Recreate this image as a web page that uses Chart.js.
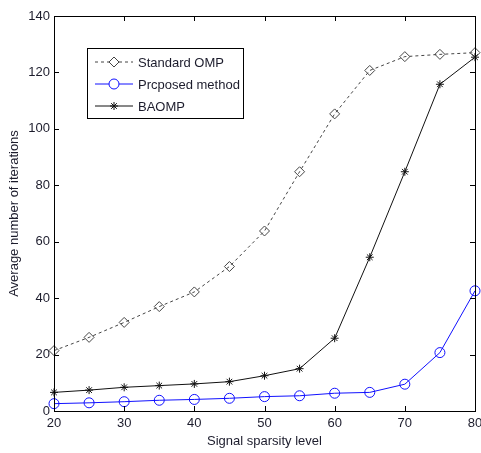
<!DOCTYPE html>
<html lang="en">
<head>
    <meta charset="UTF-8">
    <title>Average number of iterations</title>
    <script src="https://cdn.jsdelivr.net/npm/chart.js"></script>
    <style>
        html, body { margin: 0; padding: 0; background: #fff; }
        #wrap { width: 481px; height: 453px; }
    </style>
</head>
<body>
    <div id="wrap"><canvas id="myChart" width="481" height="453"></canvas></div>
    <script>
        // values
        const sparsity = [20, 25, 30, 35, 40, 45, 50, 55, 60, 65, 70, 75, 80];
        const standardOMP = [21.4, 26.1, 31.4, 37, 42.2, 51.2, 63.8, 84.8, 105.3, 120.7, 125.6, 126.4, 127];
        const proposed = [2.6, 2.9, 3.3, 3.8, 4.1, 4.5, 5.1, 5.4, 6.3, 6.6, 9.5, 20.7, 42.6];
        const baomp = [6.6, 7.4, 8.4, 9, 9.6, 10.4, 12.5, 15, 25.8, 54.5, 84.8, 115.8, 125.4];
        const xTicks = [20, 30, 40, 50, 60, 70, 80];
        const yTicks = [0, 20, 40, 60, 80, 100, 120, 140];

        const font = "'Liberation Sans', Arial, sans-serif";
        const textColor = '#1c1c2c';

        function toPoints(ys) {
            return sparsity.map((x, i) => ({ x: x, y: ys[i] }));
        }

        const series = [
            { label: 'Standard OMP', data: standardOMP, color: '#444', style: 'rectRot', radius: 5, dash: [3, 3], width: 1 },
            { label: 'Prcposed method', data: proposed, color: '#1010ff', style: 'circle', radius: 5, dash: [], width: 1 },
            { label: 'BAOMP', data: baomp, color: '#111', style: 'star', radius: 4, dash: [], width: 1 }
        ];

        // matlab style box with inward ticks, plus the legend inside the axes
        const boxPlugin = {
            id: 'box',
            afterDraw(chart) {
                const ctx = chart.ctx;
                const a = chart.chartArea;
                const xs = chart.scales.x, ys = chart.scales.y;
                ctx.save();
                ctx.strokeStyle = '#000';
                ctx.lineWidth = 1;
                ctx.strokeRect(Math.round(a.left) + 0.5, Math.round(a.top) + 0.5,
                    Math.round(a.right - a.left), Math.round(a.bottom - a.top));
                ctx.beginPath();
                xTicks.forEach(v => {
                    const px = Math.round(xs.getPixelForValue(v)) + 0.5;
                    ctx.moveTo(px, a.bottom); ctx.lineTo(px, a.bottom - 5);
                    ctx.moveTo(px, a.top); ctx.lineTo(px, a.top + 5);
                });
                yTicks.forEach(v => {
                    const py = Math.round(ys.getPixelForValue(v)) + 0.5;
                    ctx.moveTo(a.left, py); ctx.lineTo(a.left + 5, py);
                    ctx.moveTo(a.right, py); ctx.lineTo(a.right - 5, py);
                });
                ctx.stroke();

                // legend box
                const lx = Math.round(a.left) + 33, ly = Math.round(a.top) + 32, lw = 156, lh = 70;
                ctx.fillStyle = '#fff';
                ctx.fillRect(lx, ly, lw, lh);
                ctx.strokeRect(lx + 0.5, ly + 0.5, lw, lh);
                series.forEach((s, i) => {
                    const y = ly + 14 + i * 22;
                    ctx.beginPath();
                    ctx.setLineDash(s.dash);
                    ctx.strokeStyle = s.color;
                    ctx.moveTo(lx + 8, y); ctx.lineTo(lx + 46, y);
                    ctx.stroke();
                    ctx.setLineDash([]);
                    Chart.helpers.drawPoint(ctx, {
                        pointStyle: s.style, radius: s.radius, borderWidth: 1, rotation: 0
                    }, lx + 27, y);
                    ctx.fillStyle = textColor;
                    ctx.font = '13px ' + font;
                    ctx.textBaseline = 'middle';
                    ctx.textAlign = 'left';
                    ctx.fillText(s.label, lx + 51, y + 1);
                    ctx.fillStyle = '#fff';
                });
                ctx.restore();
            }
        };

        const ctx = document.getElementById('myChart').getContext('2d');
        const myChart = new Chart(ctx, {
            type: 'line',
            data: {
                datasets: series.map(s => ({
                    label: s.label,
                    data: toPoints(s.data),
                    borderColor: s.color,
                    backgroundColor: '#fff',
                    borderWidth: s.width,
                    borderDash: s.dash,
                    pointStyle: s.style,
                    pointRadius: s.radius,
                    pointBorderColor: s.color,
                    pointBackgroundColor: 'rgba(255,255,255,0)',
                    pointBorderWidth: 1,
                    tension: 0,
                    fill: false,
                    clip: 8
                }))
            },
            options: {
                responsive: false,
                animation: false,
                layout: { padding: { top: 16, right: 1, left: 0, bottom: 0 } },
                plugins: {
                    legend: { display: false },
                    tooltip: { enabled: false }
                },
                scales: {
                    x: {
                        type: 'linear',
                        min: 20,
                        max: 80,
                        afterBuildTicks: scale => { scale.ticks = xTicks.map(v => ({ value: v })); },
                        afterFit: scale => { scale.height = 42; scale.paddingLeft = 0; scale.paddingRight = 0; },
                        grid: { display: false, drawTicks: false },
                        border: { display: false },
                        ticks: { color: textColor, font: { family: font, size: 13 }, padding: 5, autoSkip: false, maxRotation: 0 },
                        title: { display: true, text: 'Signal sparsity level', color: textColor, font: { family: font, size: 13 }, padding: { top: 1, bottom: 4 } }
                    },
                    y: {
                        min: 0,
                        max: 140,
                        afterBuildTicks: scale => { scale.ticks = yTicks.map(v => ({ value: v })); },
                        afterFit: scale => { scale.width = 54; },
                        grid: { display: false, drawTicks: false },
                        border: { display: false },
                        ticks: { color: textColor, font: { family: font, size: 13 }, padding: 4 },
                        title: { display: true, text: 'Average number of iterations', color: textColor, font: { family: font, size: 13 }, padding: { top: 7, bottom: 0 } }
                    }
                }
            },
            plugins: [boxPlugin]
        });
    </script>
</body>
</html>
